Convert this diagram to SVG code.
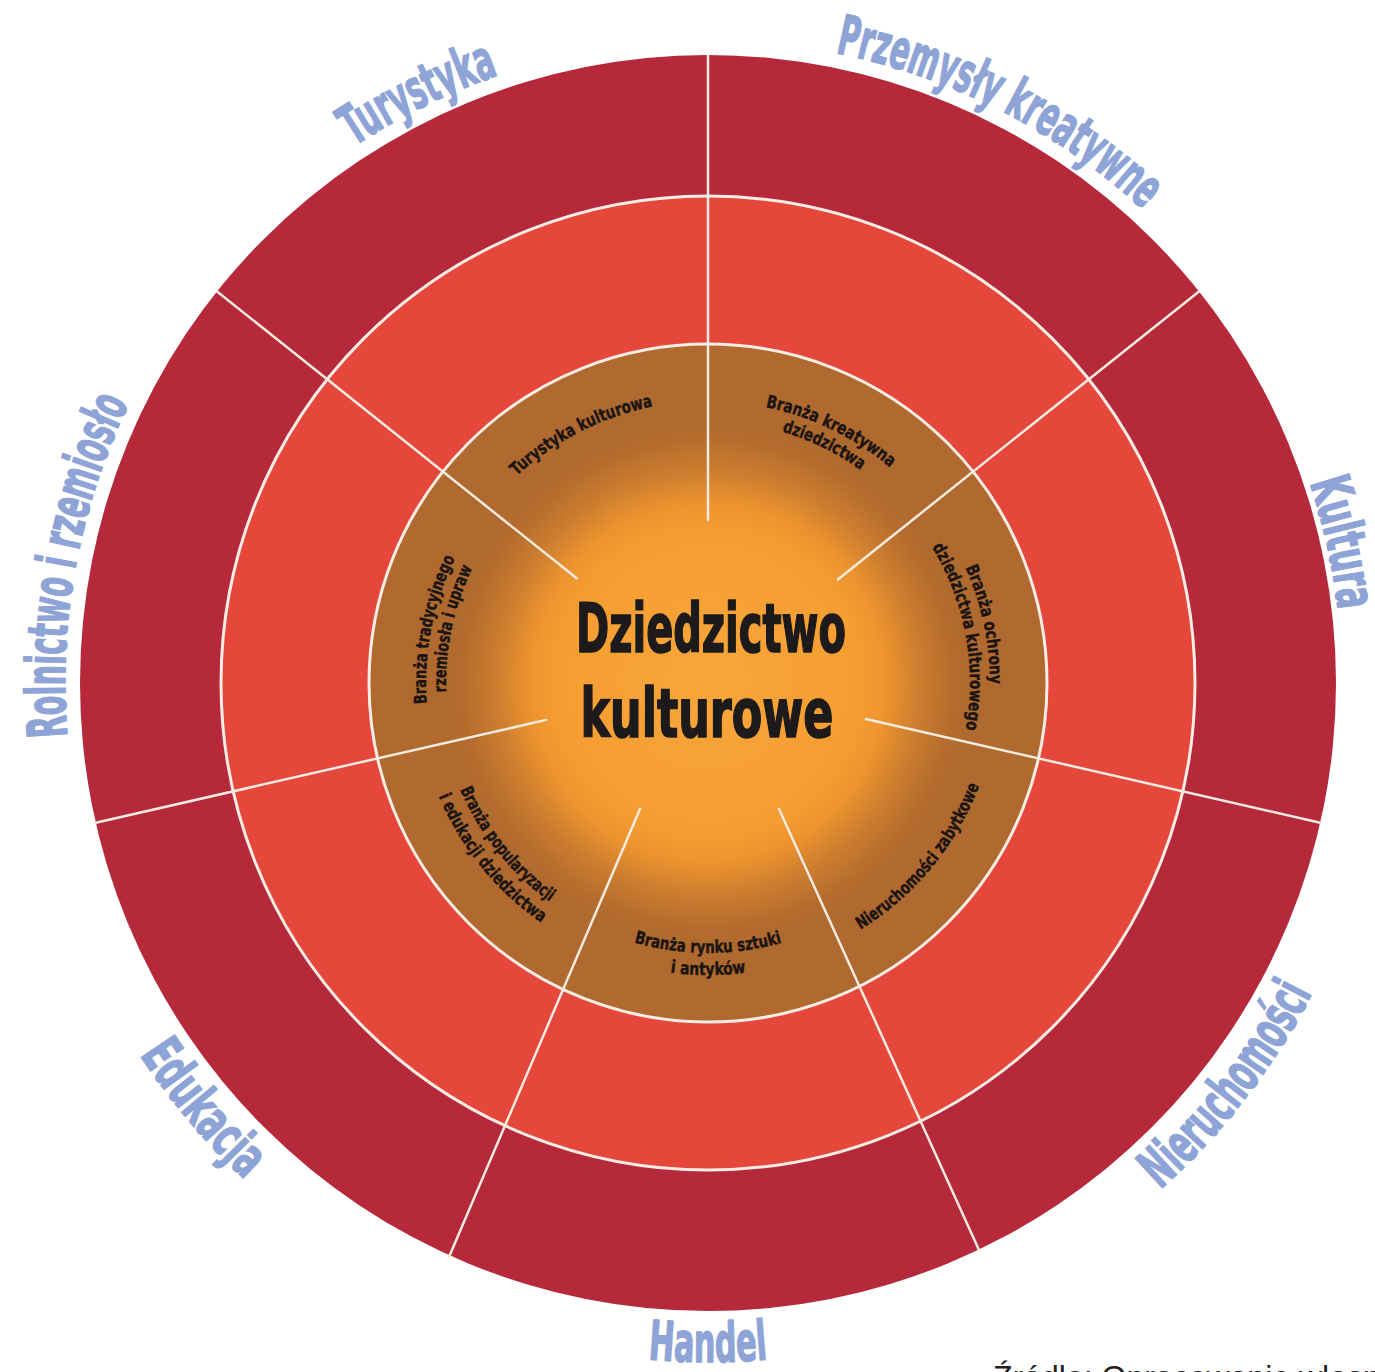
<svg xmlns="http://www.w3.org/2000/svg" xmlns:xlink="http://www.w3.org/1999/xlink" width="1375" height="1372" viewBox="0 0 1375 1372">
<defs>
<style>
.olbl{font-family:'Liberation Sans Narrow','DejaVu Sans Condensed','Liberation Sans',sans-serif;font-weight:bold;font-size:55px;fill:#8ea3d6;stroke:#8ea3d6;stroke-width:1.4;text-anchor:middle;}
.ilbl{font-family:'Liberation Sans Narrow','DejaVu Sans Condensed','Liberation Sans',sans-serif;font-weight:bold;font-size:17.5px;fill:#1a1512;stroke:#1a1512;stroke-width:0.4;text-anchor:middle;}
.title{font-family:'Liberation Sans Narrow','DejaVu Sans Condensed','Liberation Sans',sans-serif;font-weight:bold;font-size:68px;fill:#1c1a1a;stroke:#1c1a1a;stroke-width:1.6;text-anchor:middle;}
.spoke{stroke:#f6ebe0;stroke-width:2.5;stroke-linecap:round;fill:none;}
.ring{stroke:#f7ede4;stroke-width:3;}
.src{font-family:'Liberation Sans',Arial,sans-serif;font-size:32px;fill:#222;}
</style>
<radialGradient id="glow" cx="708" cy="683" r="265" gradientUnits="userSpaceOnUse">
<stop offset="0" stop-color="#f8a63b"/>
<stop offset="0.58" stop-color="#f59d31"/>
<stop offset="0.68" stop-color="#ec932f"/>
<stop offset="0.8" stop-color="#cc7d2f"/>
<stop offset="0.92" stop-color="#b56d2e"/>
<stop offset="1" stop-color="#b0692e"/>
</radialGradient>
<path id="cw643" d="M103.8,463.1 A643,643 0 0 1 1312.2,463.1"/>
<path id="cw634" d="M112.2,466.2 A634,634 0 0 1 1303.8,466.2"/>
<path id="ccw679" d="M69.9,915.2 A679,679 0 0 0 1346.1,915.2"/>
<path id="cw282" d="M443,586.6 A282,282 0 0 1 973,586.6"/>
<path id="cw262" d="M461.8,593.4 A262,262 0 0 1 954.2,593.4"/>
<path id="ccw270" d="M454.3,775.3 A270,270 0 0 0 961.7,775.3"/>
<path id="ccw290" d="M435.5,782.2 A290,290 0 0 0 980.5,782.2"/>
<path id="ccw292" d="M433.6,782.9 A292,292 0 0 0 982.4,782.9"/>
</defs>
<rect width="1375" height="1372" fill="#ffffff"/>
<g id="rings">
<circle cx="708" cy="683" r="628" fill="#b5293a"/>
<circle class="ring" cx="708" cy="683" r="487" fill="#e5473b"/>
<circle class="ring" cx="708" cy="683" r="339" fill="#b0692e"/>
<circle cx="708" cy="683" r="265" fill="url(#glow)"/>
</g>
<g id="connectors">
<line class="spoke" x1="708" y1="520" x2="708" y2="55"/>
<line class="spoke" x1="837.8" y1="579.5" x2="1199" y2="291.4"/>
<line class="spoke" x1="865.9" y1="719" x2="1320.2" y2="822.7"/>
<line class="spoke" x1="779" y1="809" x2="979" y2="1250"/>
<line class="spoke" x1="640" y1="809" x2="449" y2="1257"/>
<line class="spoke" x1="546.2" y1="719.9" x2="95.8" y2="822.7"/>
<line class="spoke" x1="576.7" y1="578.3" x2="217" y2="291.4"/>
</g>
<g id="center">
<text class="title" x="711" y="652" textLength="270" lengthAdjust="spacingAndGlyphs">Dziedzictwo</text>
<text class="title" x="707" y="737" textLength="253" lengthAdjust="spacingAndGlyphs">kulturowe</text>
</g>
<g id="sector-turystyka">
<text class="olbl" transform="rotate(-26.2 708 683)"><textPath xlink:href="#cw643" startOffset="50%" textLength="162" lengthAdjust="spacingAndGlyphs">Turystyka</textPath></text>
<text class="ilbl" transform="rotate(-27 708 683)"><textPath xlink:href="#cw282" startOffset="50%" textLength="155" lengthAdjust="spacingAndGlyphs">Turystyka kulturowa</textPath></text>
</g>
<g id="sector-przemysly">
<text class="olbl" transform="rotate(27 708 683)"><textPath xlink:href="#cw643" startOffset="50%" textLength="350" lengthAdjust="spacingAndGlyphs">Przemysły kreatywne</textPath></text>
<text class="ilbl" transform="rotate(26 708 683)"><textPath xlink:href="#cw282" startOffset="50%" textLength="140" lengthAdjust="spacingAndGlyphs">Branża kreatywna</textPath></text>
<text class="ilbl" transform="rotate(26 708 683)"><textPath xlink:href="#cw262" startOffset="50%" textLength="88" lengthAdjust="spacingAndGlyphs">dziedzictwa</textPath></text>
</g>
<g id="sector-kultura">
<text class="olbl" transform="rotate(77.5 708 683)"><textPath xlink:href="#cw634" startOffset="50%" textLength="131" lengthAdjust="spacingAndGlyphs">Kultura</textPath></text>
<text class="ilbl" transform="rotate(78 708 683)"><textPath xlink:href="#cw282" startOffset="50%" textLength="120" lengthAdjust="spacingAndGlyphs">Branża ochrony</textPath></text>
<text class="ilbl" transform="rotate(79.5 708 683)"><textPath xlink:href="#cw262" startOffset="50%" textLength="190" lengthAdjust="spacingAndGlyphs">dziedzictwa kulturowego</textPath></text>
</g>
<g id="sector-nieruchomosci">
<text class="olbl" transform="rotate(-52.3 708 683)"><textPath xlink:href="#ccw679" startOffset="50%" textLength="250" lengthAdjust="spacingAndGlyphs">Nieruchomości</textPath></text>
<text class="ilbl" transform="rotate(-50.5 708 683)"><textPath xlink:href="#ccw290" startOffset="50%" textLength="190" lengthAdjust="spacingAndGlyphs">Nieruchomości zabytkowe</textPath></text>
</g>
<g id="sector-handel">
<text class="olbl"><textPath xlink:href="#ccw679" startOffset="50%" textLength="120" lengthAdjust="spacingAndGlyphs">Handel</textPath></text>
<text class="ilbl"><textPath xlink:href="#ccw270" startOffset="50%" textLength="150" lengthAdjust="spacingAndGlyphs">Branża rynku sztuki</textPath></text>
<text class="ilbl"><textPath xlink:href="#ccw292" startOffset="50%" textLength="76" lengthAdjust="spacingAndGlyphs">i antyków</textPath></text>
</g>
<g id="sector-edukacja">
<text class="olbl" transform="rotate(49.9 708 683)"><textPath xlink:href="#ccw679" startOffset="50%" textLength="164" lengthAdjust="spacingAndGlyphs">Edukacja</textPath></text>
<text class="ilbl" transform="rotate(51.3 708 683)"><textPath xlink:href="#ccw270" startOffset="50%" textLength="145" lengthAdjust="spacingAndGlyphs">Branża popularyzacji</textPath></text>
<text class="ilbl" transform="rotate(51 708 683)"><textPath xlink:href="#ccw292" startOffset="50%" textLength="165" lengthAdjust="spacingAndGlyphs">i edukacji dziedzictwa</textPath></text>
</g>
<g id="sector-rolnictwo">
<text class="olbl" transform="rotate(-79.5 708 683)"><textPath xlink:href="#cw643" startOffset="50%" textLength="343" lengthAdjust="spacingAndGlyphs">Rolnictwo i rzemiosło</textPath></text>
<text class="ilbl" transform="rotate(-79 708 683)"><textPath xlink:href="#cw282" startOffset="50%" textLength="150" lengthAdjust="spacingAndGlyphs">Branża tradycyjnego</textPath></text>
<text class="ilbl" transform="rotate(-78 708 683)"><textPath xlink:href="#cw262" startOffset="50%" textLength="128" lengthAdjust="spacingAndGlyphs">rzemiosła i upraw</textPath></text>
</g>
<text class="src" x="993" y="1388">Źródło: Opracowanie własne</text>
</svg>
